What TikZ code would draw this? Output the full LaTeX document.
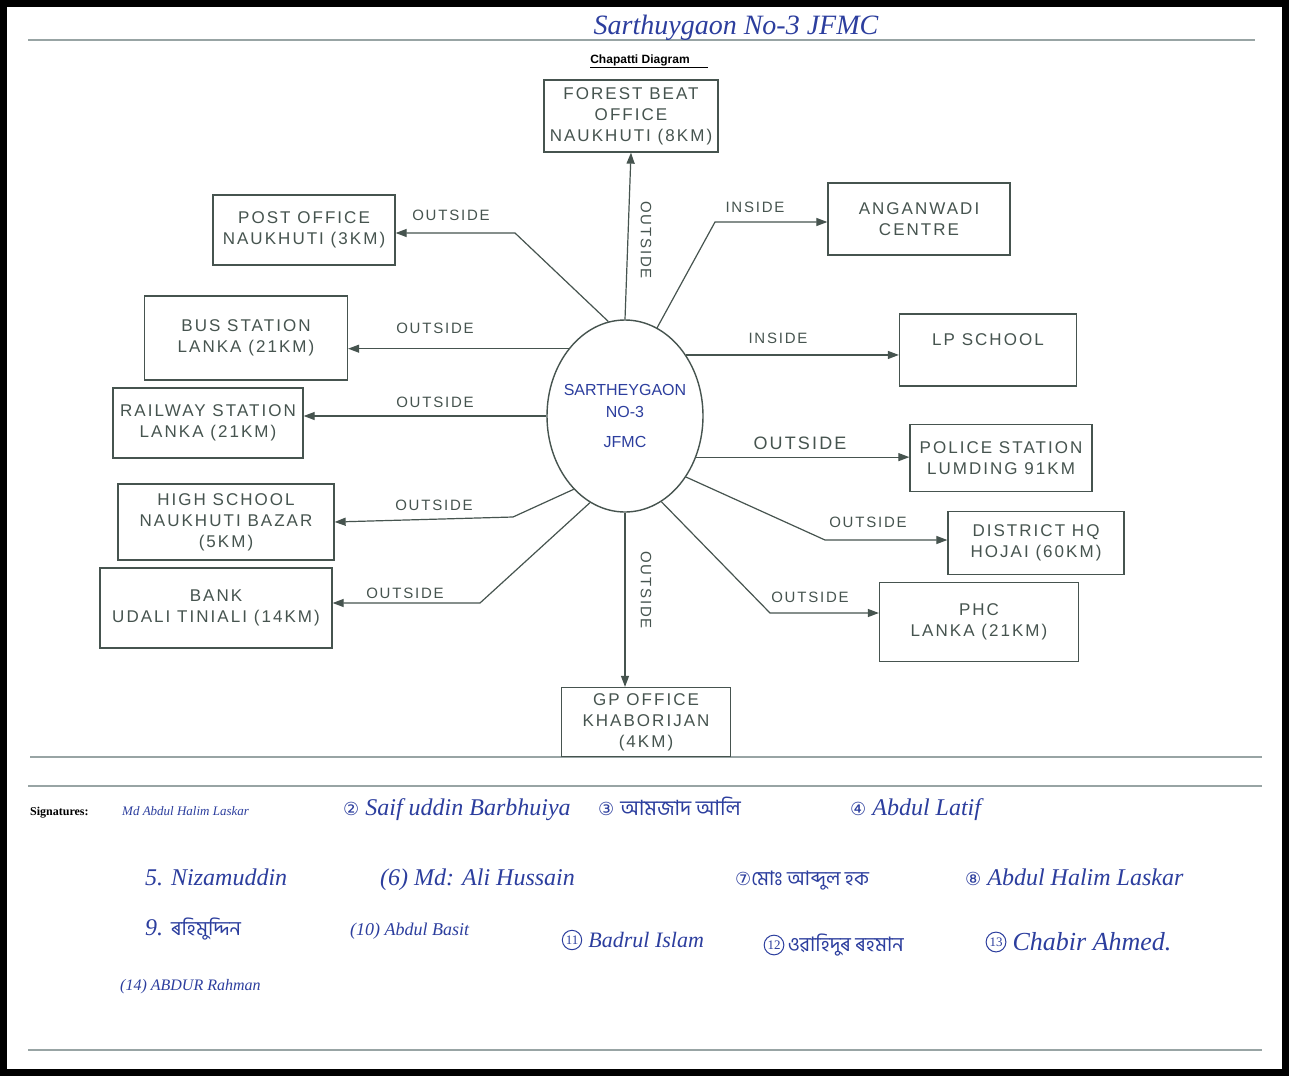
\documentclass[tikz,border=0pt]{standalone}
\usepackage{fontspec}
\setmainfont{Liberation Sans}
\newfontfamily\pencilfont[LetterSpace=12]{Liberation Sans}
\newfontfamily\inkfont{Liberation Serif}
\newfontfamily\circfont{DejaVu Sans}
\newfontfamily\bengfont[Script=Bengali]{Hind Siliguri}
\usetikzlibrary{arrows.meta,shapes.geometric,positioning}
\definecolor{pencil}{HTML}{46544F}
\definecolor{ink}{HTML}{2C3E9E}
\definecolor{rulegray}{HTML}{98A4A4}

\begin{document}
\begin{tikzpicture}[x=1pt,y=-1pt,
    place/.style={draw=pencil,line width=1.3pt,text=pencil,align=center,inner sep=0pt,
      font=\pencilfont\fontsize{17}{21}\selectfont},
    link/.style={draw=pencil,line width=1.2pt,-{Triangle[length=11pt,width=8pt]}},
    tag/.style={text=pencil,inner sep=0pt,font=\pencilfont\fontsize{15}{17}\selectfont},
    sign/.style={text=ink,inner sep=0pt,anchor=base west,font=\inkfont\itshape\fontsize{24}{26}\selectfont},
    circnum/.style={circle,draw=ink,line width=1pt,text=ink,inner sep=1.5pt,font=\inkfont\fontsize{13}{14}\selectfont},
    rulel/.style={draw=rulegray,line width=1.6pt}]
    %%%%% START %%%%%

    \useasboundingbox (0,0) rectangle (1289,1076);
    \fill[white] (0,0) rectangle (1289,1076);
    \draw[line width=7pt] (3.5,3.5) rectangle (1285.5,1072.5);

    \draw[rulel] (28,40) -- (1255,40);
    \draw[rulel] (30,757) -- (1262,757);
    \draw[rulel] (28,786) -- (1262,786);
    \draw[rulel] (28,1050) -- (1262,1050);

    \node[text=ink,inner sep=0pt,font=\inkfont\itshape\fontsize{28}{30}\selectfont] (title) at (736,28) {Sarthuygaon No-3 JFMC};
    \node[inner sep=0pt,font=\bfseries\fontsize{12}{14}\selectfont] (caption) at (640,60) {Chapatti Diagram};
    \draw[line width=1pt] (caption.south west) ++(0,2) -- ++(118,0);

    % centre
    \node[ellipse,draw=pencil,line width=1.4pt,minimum width=156,minimum height=192,inner xsep=-8pt,inner ysep=0pt,
      text=ink,align=center,font=\fontsize{16}{22}\selectfont] (hub) at (625,416) {SARTHEYGAON\\NO-3\\[8pt]JFMC};

    % places
    \node[place,minimum width=174,minimum height=72] (forest) at (631,116) {FOREST BEAT\\OFFICE\\NAUKHUTI (8KM)};
    \node[place,minimum width=182,minimum height=70] (post) at (304,230) {POST OFFICE\\NAUKHUTI (3KM)};
    \node[place,minimum width=182,minimum height=72] (angan) at (919,219) {ANGANWADI\\CENTRE};
    \node[place,minimum width=203,minimum height=84] (bus) at (246,338) {BUS STATION\\LANKA (21KM)};
    \node[place,minimum width=177,minimum height=72] (lp) at (988,350) {LP SCHOOL\\\phantom{X}};
    \node[place,minimum width=190,minimum height=70] (rail) at (208,423) {RAILWAY STATION\\LANKA (21KM)};
    \node[place,minimum width=182,minimum height=67] (police) at (1001,458) {POLICE STATION\\LUMDING 91KM};
    \node[place,minimum width=216,minimum height=76] (high) at (226,522) {HIGH SCHOOL\\NAUKHUTI BAZAR\\(5KM)};
    \node[place,minimum width=176,minimum height=63] (dist) at (1036,543) {DISTRICT HQ\\HOJAI (60KM)};
    \node[place,minimum width=232,minimum height=80] (bank) at (216,608) {BANK\\UDALI TINIALI (14KM)};
    \node[place,minimum width=199,minimum height=79] (phc) at (979,622) {PHC\\LANKA (21KM)};
    \node[place,minimum width=169,minimum height=69] (gp) at (646,722) {GP OFFICE\\KHABORIJAN\\(4KM)};

    % connectors
    \draw[link] (hub.north) -- (forest.south);
    \draw[link] (hub.100) -- (515,233) coordinate (postbend) -- (postbend -| post.east);
    \draw[link] (hub.70) -- (715,222) coordinate (anganbend) -- (anganbend -| angan.west);
    \draw[link] (hub.130) -- (hub.130 -| bus.east);
    \draw[link] (hub.45) -- (hub.45 -| lp.west);
    \draw[link] (hub.west) -- (hub.west -| rail.east);
    \draw[link] (hub.-30) -- (hub.-30 -| police.west);
    \draw[link] (hub.235) -- (513,517) -- (high.east);
    \draw[link] (hub.-45) -- (825,540) coordinate (distbend) -- (distbend -| dist.west);
    \draw[link] (hub.248) -- (480,603) coordinate (bankbend) -- (bankbend -| bank.east);
    \draw[link] (hub.-67) -- (770,613) coordinate (phcbend) -- (phcbend -| phc.west);
    \draw[link] (hub.south) -- (hub.south |- gp.north);

    % labels
    \node[tag,rotate=-90] (lforest) at (646,240) {OUTSIDE};
    \node[tag] (lpost) at (451,215) {OUTSIDE};
    \node[tag] (langan) at (755,207) {INSIDE};
    \node[tag] (lbus) at (435,328) {OUTSIDE};
    \node[tag] (llp) at (778,338) {INSIDE};
    \node[tag] (lrail) at (435,402) {OUTSIDE};
    \node[tag,font=\pencilfont\fontsize{18}{20}\selectfont] (lpolice) at (800,443) {OUTSIDE};
    \node[tag] (lhigh) at (434,505) {OUTSIDE};
    \node[tag] (ldist) at (868,522) {OUTSIDE};
    \node[tag] (lbank) at (405,593) {OUTSIDE};
    \node[tag] (lphc) at (810,597) {OUTSIDE};
    \node[tag,rotate=-90] (lgp) at (646,590) {OUTSIDE};

    % signatures
    \node[inner sep=0pt,anchor=base west,font=\inkfont\bfseries\fontsize{12}{14}\selectfont] (signhead) at (30,815) {Signatures:};
    \node[sign,font=\inkfont\itshape\fontsize{13}{15}\selectfont] (s1) at (122,815) {Md Abdul Halim Laskar};
    \node[sign] (s2) at (343,815) {{\circfont\fontsize{18}{20}\selectfont②} Saif uddin Barbhuiya};
    \node[sign] (s3) at (598,815) {{\circfont\fontsize{18}{20}\selectfont③} {\bengfont\fontsize{21}{24}\selectfont আমজাদ আলি}};
    \node[sign] (s4) at (850,815) {{\circfont\fontsize{18}{20}\selectfont④} Abdul Latif};
    \node[sign] (s5) at (145,885) {5. Nizamuddin};
    \node[sign] (s6) at (380,885) {(6) Md: Ali Hussain};
    \node[sign] (s7) at (735,885) {{\circfont\fontsize{18}{20}\selectfont⑦}{\bengfont\fontsize{20}{22}\selectfont মোঃ আব্দুল হক}};
    \node[sign] (s8) at (965,885) {{\circfont\fontsize{18}{20}\selectfont⑧} Abdul Halim Laskar};
    \node[sign] (s9) at (145,935) {9. {\bengfont\fontsize{20}{22}\selectfont ৰহিমুদ্দিন}};
    \node[sign,font=\inkfont\itshape\fontsize{18}{20}\selectfont] (s10) at (350,935) {(10) Abdul Basit};
    \node[circnum] (c11) at (572,940) {11};
    \node[sign,font=\inkfont\itshape\fontsize{22}{24}\selectfont,anchor=west] (s11) at ([xshift=6pt]c11.east) {Badrul Islam};
    \node[circnum] (c12) at (774,945) {12};
    \node[sign,anchor=west] (s12) at ([xshift=3pt]c12.east) {\bengfont\fontsize{20}{22}\selectfont ওৱাহিদুৰ ৰহমান};
    \node[circnum] (c13) at (996,942) {13};
    \node[sign,font=\inkfont\itshape\fontsize{26}{28}\selectfont,anchor=west] (s13) at ([xshift=6pt]c13.east) {Chabir Ahmed.};
    \node[sign,font=\inkfont\itshape\fontsize{16}{18}\selectfont] (s14) at (120,990) {(14) ABDUR Rahman};

    %%%%% END %%%%%
\end{tikzpicture}
\end{document}
